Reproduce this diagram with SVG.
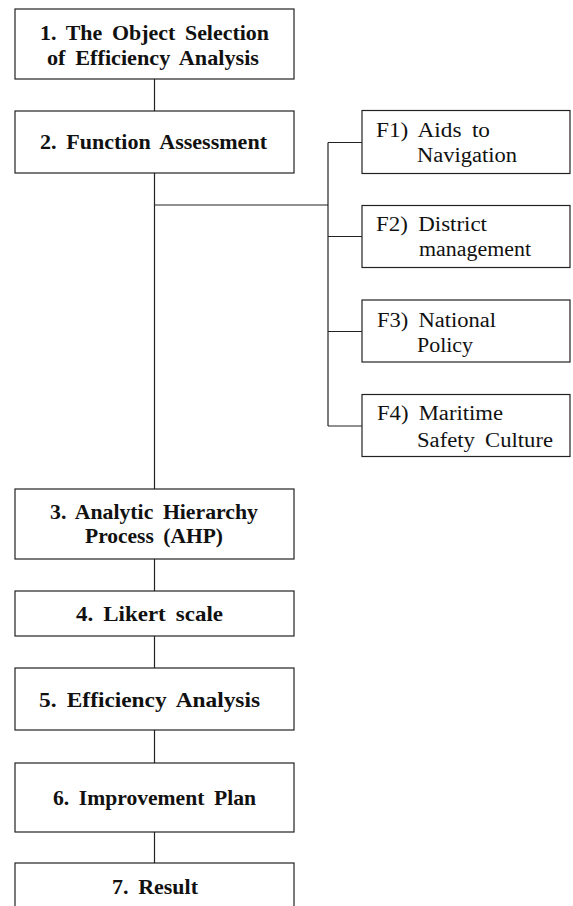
<svg xmlns="http://www.w3.org/2000/svg" width="573" height="906" viewBox="0 0 573 906">
<style>
.box{fill:#fff;stroke:#222;stroke-width:1.2}
.main{font-family:"Liberation Serif","Times New Roman",serif;font-weight:bold;font-size:21px;fill:#111;word-spacing:4px}
.sub{font-family:"Liberation Serif","Times New Roman",serif;font-size:20px;fill:#111;word-spacing:4px}
.ln{stroke:#222;stroke-width:1.2;fill:none}
</style>
<rect width="573" height="906" fill="#fff"/>
<g id="connectors">
<line class="ln" x1="154.5" y1="79" x2="154.5" y2="111"/>
<line class="ln" x1="154.5" y1="173" x2="154.5" y2="489"/>
<line class="ln" x1="154.5" y1="559" x2="154.5" y2="591"/>
<line class="ln" x1="154.5" y1="636" x2="154.5" y2="668"/>
<line class="ln" x1="154.5" y1="730" x2="154.5" y2="763"/>
<line class="ln" x1="154.5" y1="832" x2="154.5" y2="863"/>
<line class="ln" x1="154.5" y1="205" x2="328" y2="205"/>
<line class="ln" x1="328" y1="142.5" x2="328" y2="426"/>
<line class="ln" x1="328" y1="142.5" x2="362" y2="142.5"/>
<line class="ln" x1="328" y1="236.5" x2="362" y2="236.5"/>
<line class="ln" x1="328" y1="331.5" x2="362" y2="331.5"/>
<line class="ln" x1="328" y1="426" x2="362" y2="426"/>
</g>
<g id="n1">
<rect class="box" x="15" y="9" width="279" height="70"/>
<text class="main" x="40" y="40" textLength="229" lengthAdjust="spacingAndGlyphs">1. The Object Selection</text>
<text class="main" x="47" y="65" textLength="212" lengthAdjust="spacingAndGlyphs">of Efficiency Analysis</text>
</g>
<g id="n2">
<rect class="box" x="15" y="111" width="279" height="62"/>
<text class="main" x="40" y="149" textLength="227" lengthAdjust="spacingAndGlyphs">2. Function Assessment</text>
</g>
<g id="n3">
<rect class="box" x="15" y="489" width="279" height="70"/>
<text class="main" x="50" y="519" textLength="208" lengthAdjust="spacingAndGlyphs">3. Analytic Hierarchy</text>
<text class="main" x="85" y="543" textLength="138" lengthAdjust="spacingAndGlyphs">Process (AHP)</text>
</g>
<g id="n4">
<rect class="box" x="15" y="591" width="279" height="45"/>
<text class="main" x="76" y="621" textLength="147" lengthAdjust="spacingAndGlyphs">4. Likert scale</text>
</g>
<g id="n5">
<rect class="box" x="15" y="668" width="279" height="62"/>
<text class="main" x="39" y="706.5" textLength="221" lengthAdjust="spacingAndGlyphs">5. Efficiency Analysis</text>
</g>
<g id="n6">
<rect class="box" x="15" y="763" width="279" height="69"/>
<text class="main" x="53" y="805" textLength="203" lengthAdjust="spacingAndGlyphs">6. Improvement Plan</text>
</g>
<g id="n7">
<rect class="box" x="15" y="863" width="279" height="60"/>
<text class="main" x="112" y="894" textLength="86" lengthAdjust="spacingAndGlyphs">7. Result</text>
</g>
<g id="f1">
<rect class="box" x="362" y="110.5" width="208" height="63"/>
<text class="sub" x="376" y="137" textLength="114" lengthAdjust="spacingAndGlyphs">F1) Aids to</text>
<text class="sub" x="417" y="162" textLength="100" lengthAdjust="spacingAndGlyphs">Navigation</text>
</g>
<g id="f2">
<rect class="box" x="362" y="205.5" width="208" height="62"/>
<text class="sub" x="376" y="231" textLength="111" lengthAdjust="spacingAndGlyphs">F2) District</text>
<text class="sub" x="419" y="256" textLength="112" lengthAdjust="spacingAndGlyphs">management</text>
</g>
<g id="f3">
<rect class="box" x="362" y="300" width="208" height="62"/>
<text class="sub" x="377" y="327" textLength="119" lengthAdjust="spacingAndGlyphs">F3) National</text>
<text class="sub" x="417" y="352" textLength="56" lengthAdjust="spacingAndGlyphs">Policy</text>
</g>
<g id="f4">
<rect class="box" x="362" y="394.5" width="208" height="62"/>
<text class="sub" x="377" y="420" textLength="126" lengthAdjust="spacingAndGlyphs">F4) Maritime</text>
<text class="sub" x="417" y="446.5" textLength="136" lengthAdjust="spacingAndGlyphs">Safety Culture</text>
</g>
</svg>
